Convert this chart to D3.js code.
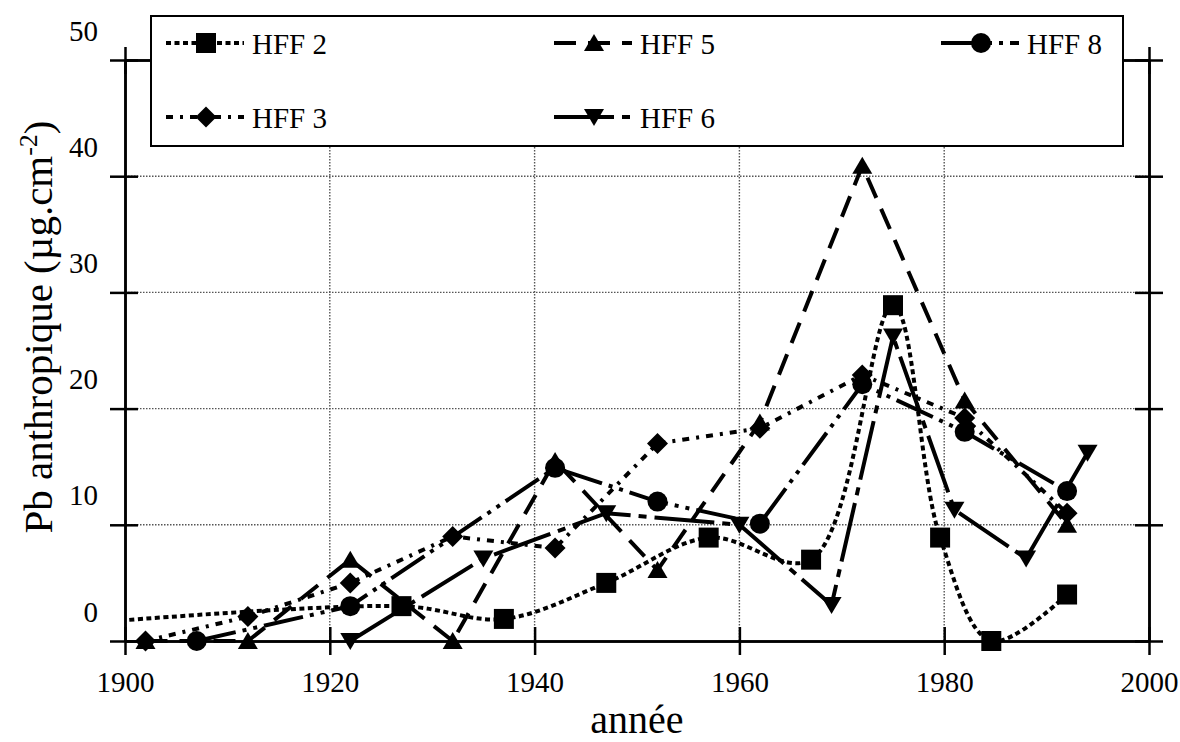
<!DOCTYPE html>
<html><head><meta charset="utf-8">
<script src="https://cdn.jsdelivr.net/npm/d3@7"></script>
<style>
body{margin:0;background:#fff}
svg{display:block}
text{font-family:"Liberation Serif","Times New Roman",serif;fill:#000}
</style>
</head><body>
<svg id="chart" width="1180" height="742"></svg>
<script>
// ---- data ----
const seriesNames = ["HFF 2", "HFF 3", "HFF 5", "HFF 6", "HFF 8"];
const hff2Years  = [1893, 1927, 1937, 1947, 1957, 1967, 1975, 1979.6, 1984.6, 1992];
const hff2Values = [1.3, 3.0, 1.9, 5.0, 8.9, 7.0, 28.9, 8.9, 0, 4.0];
const hff3Years  = [1902, 1912, 1922, 1932, 1942, 1952, 1962, 1972, 1982, 1992];
const hff3Values = [0, 2.1, 5.0, 9.0, 8.0, 17.0, 18.3, 22.9, 19.2, 11.0];
const hff5Years  = [1902, 1912, 1922, 1932, 1942, 1952, 1962, 1972, 1982, 1992];
const hff5Values = [0, 0, 7.0, 0, 15.5, 6.1, 18.8, 40.9, 20.7, 10.0];
const hff6Years  = [1922, 1935, 1947, 1960, 1969, 1975, 1981, 1988, 1994];
const hff6Values = [0, 7.1, 11.0, 10.0, 3.1, 26.2, 11.3, 7.1, 16.2];
const hff8Years  = [1907, 1922, 1942, 1952, 1962, 1972, 1982, 1992];
const hff8Values = [0, 3.0, 14.9, 12.0, 10.1, 22.1, 18.0, 12.9];
const xTicks = [1900, 1920, 1940, 1960, 1980, 2000];
const yTicks = [0, 10, 20, 30, 40, 50];
const xGrid = [1920, 1940, 1960, 1980];
const yGrid = [10, 20, 30, 40];
const xTitle = "année";
const yTitleMain = "Pb anthropique (µg.cm";
const yTitleSup = "-2";
const legendOrder = ["HFF 2", "HFF 5", "HFF 8", "HFF 3", "HFF 6"];

// ---- layout ----
const L = 125, R = 1149, T = 60, B = 641;
const svg = d3.select("#chart");
const x = d3.scaleLinear().domain([1900, 2000]).range([L, R]);
const y = d3.scaleLinear().domain([0, 50]).range([B, T]);

const styles = {
  "HFF 2": {sym: "square",  dash: "5,3.5",              curve: d3.curveCatmullRom},
  "HFF 3": {sym: "diamond", dash: "7,7,3,7",            curve: d3.curveLinear},
  "HFF 5": {sym: "up",      dash: "22,12",              curve: d3.curveLinear},
  "HFF 6": {sym: "down",    dash: "60,8,8,8",           curve: d3.curveLinear},
  "HFF 8": {sym: "circle",  dash: "40,7,4,7,4,7",       curve: d3.curveLinear}
};
const dataMap = {
  "HFF 2": [hff2Years, hff2Values],
  "HFF 3": [hff3Years, hff3Values],
  "HFF 5": [hff5Years, hff5Values],
  "HFF 6": [hff6Years, hff6Values],
  "HFF 8": [hff8Years, hff8Values]
};
const series = seriesNames.map(n => ({
  name: n,
  pts: dataMap[n][0].map((yr, i) => ({yr, v: dataMap[n][1][i]})),
  ...styles[n]
}));

function symPath(kind) {
  switch (kind) {
    case "square": return "M-10,-10H10V10H-10Z";
    case "diamond": return "M0,-10.5L10.5,0L0,10.5L-10.5,0Z";
    case "up": return "M0,-9L10,8L-10,8Z";
    case "down": return "M0,9L10,-8L-10,-8Z";
    case "circle": return "M10,0A10,10 0 1,1 -10,0A10,10 0 1,1 10,0Z";
  }
}

// ---- grid ----
const grid = svg.append("g");
grid.selectAll(".gx").data(xGrid).join("line")
  .attr("x1", d => x(d)).attr("x2", d => x(d)).attr("y1", T).attr("y2", B)
  .attr("stroke", "#555").attr("stroke-width", 1.4).attr("stroke-dasharray", "1.5,1.5");
grid.selectAll(".gy").data(yGrid).join("line")
  .attr("y1", d => y(d)).attr("y2", d => y(d)).attr("x1", L).attr("x2", R)
  .attr("stroke", "#555").attr("stroke-width", 1.4).attr("stroke-dasharray", "1.5,1.5");

// ---- axes ----
function styleAxis(g) {
  g.selectAll("path.domain").attr("stroke", "#000").attr("stroke-width", 2.5);
  g.selectAll(".tick line").attr("stroke", "#000").attr("stroke-width", 2.5);
}
const fmt = d3.format("d");
const gb = svg.append("g").attr("transform", `translate(0,${B})`)
  .call(d3.axisBottom(x).tickValues(xTicks).tickSize(14).tickSizeOuter(0).tickFormat(fmt));
gb.selectAll("text").attr("y", 51).attr("dy", 0).style("font-size", "29px").style("font-family", "Liberation Serif");
styleAxis(gb);
const gbi = svg.append("g").attr("transform", `translate(0,${B})`)
  .call(d3.axisTop(x).tickValues(xTicks).tickSize(14).tickSizeOuter(0).tickFormat(""));
styleAxis(gbi);
const gt = svg.append("g").attr("transform", `translate(0,${T})`)
  .call(d3.axisTop(x).tickValues(xTicks).tickSize(13).tickSizeOuter(0).tickFormat(""));
styleAxis(gt);
const gti = svg.append("g").attr("transform", `translate(0,${T})`)
  .call(d3.axisBottom(x).tickValues(xTicks).tickSize(14).tickSizeOuter(0).tickFormat(""));
styleAxis(gti);
const gl = svg.append("g").attr("transform", `translate(${L},0)`)
  .call(d3.axisLeft(y).tickValues(yTicks).tickSize(15).tickSizeOuter(0).tickFormat(fmt));
gl.selectAll("text").attr("x", -27).attr("y", -20).attr("dy", 0).style("font-size", "29px").style("font-family", "Liberation Serif");
styleAxis(gl);
const gli = svg.append("g").attr("transform", `translate(${L},0)`)
  .call(d3.axisRight(y).tickValues(yTicks).tickSize(13).tickSizeOuter(0).tickFormat(""));
styleAxis(gli);
const gr = svg.append("g").attr("transform", `translate(${R},0)`)
  .call(d3.axisRight(y).tickValues(yTicks).tickSize(14).tickSizeOuter(0).tickFormat(""));
styleAxis(gr);
const gri = svg.append("g").attr("transform", `translate(${R},0)`)
  .call(d3.axisLeft(y).tickValues(yTicks).tickSize(14).tickSizeOuter(0).tickFormat(""));
styleAxis(gri);

// ---- lines ----
svg.append("clipPath").attr("id", "plotclip").append("rect")
  .attr("x", L).attr("y", T - 5).attr("width", R - L).attr("height", B - T + 9);
const plot = svg.append("g");
series.forEach(s => {
  const line = d3.line().x(d => x(d.yr)).y(d => y(d.v)).curve(s.curve);
  plot.append("path").datum(s.pts)
    .attr("clip-path", "url(#plotclip)")
    .attr("d", line).attr("fill", "none").attr("stroke", "#000")
    .attr("stroke-width", 4).attr("stroke-dasharray", s.dash);
});
series.forEach(s => {
  plot.selectAll(null).data(s.pts.filter(d => d.yr >= 1900 && d.yr <= 2000)).join("path")
    .attr("transform", d => `translate(${x(d.yr)},${y(d.v)})`)
    .attr("d", symPath(s.sym)).attr("fill", "#000");
});

// ---- titles ----
svg.append("text").attr("x", (L + R) / 2).attr("y", 733).attr("text-anchor", "middle")
  .style("font-size", "40px").text(xTitle);
const yt = svg.append("text").attr("transform", "translate(52,327) rotate(-90)")
  .attr("text-anchor", "middle").style("font-size", "41px");
yt.append("tspan").text(yTitleMain);
yt.append("tspan").attr("dy", -15).style("font-size", "26px").text(yTitleSup);
yt.append("tspan").attr("dy", 15).text(")");

// ---- legend ----
const lg = svg.append("g");
lg.append("rect").attr("x", 151).attr("y", 16).attr("width", 972).attr("height", 130)
  .attr("fill", "#fff").attr("stroke", "#000").attr("stroke-width", 2);
const colX = [166, 554, 941], rowY = [43, 117];
legendOrder.forEach((name, i) => {
  const s = series.find(d => d.name === name);
  const cx = colX[i % 3], cy = rowY[Math.floor(i / 3)];
  const g = lg.append("g").attr("transform", `translate(${cx},${cy})`);
  g.append("line").attr("x1", 0).attr("x2", 78).attr("y1", 0).attr("y2", 0)
    .attr("stroke", "#000").attr("stroke-width", 4).attr("stroke-dasharray", s.dash);
  g.append("path").attr("transform", "translate(40,0)").attr("d", symPath(s.sym)).attr("fill", "#000");
  g.append("text").attr("x", 86).attr("y", 11).style("font-size", "29px").text(name);
});
</script>
</body></html>
